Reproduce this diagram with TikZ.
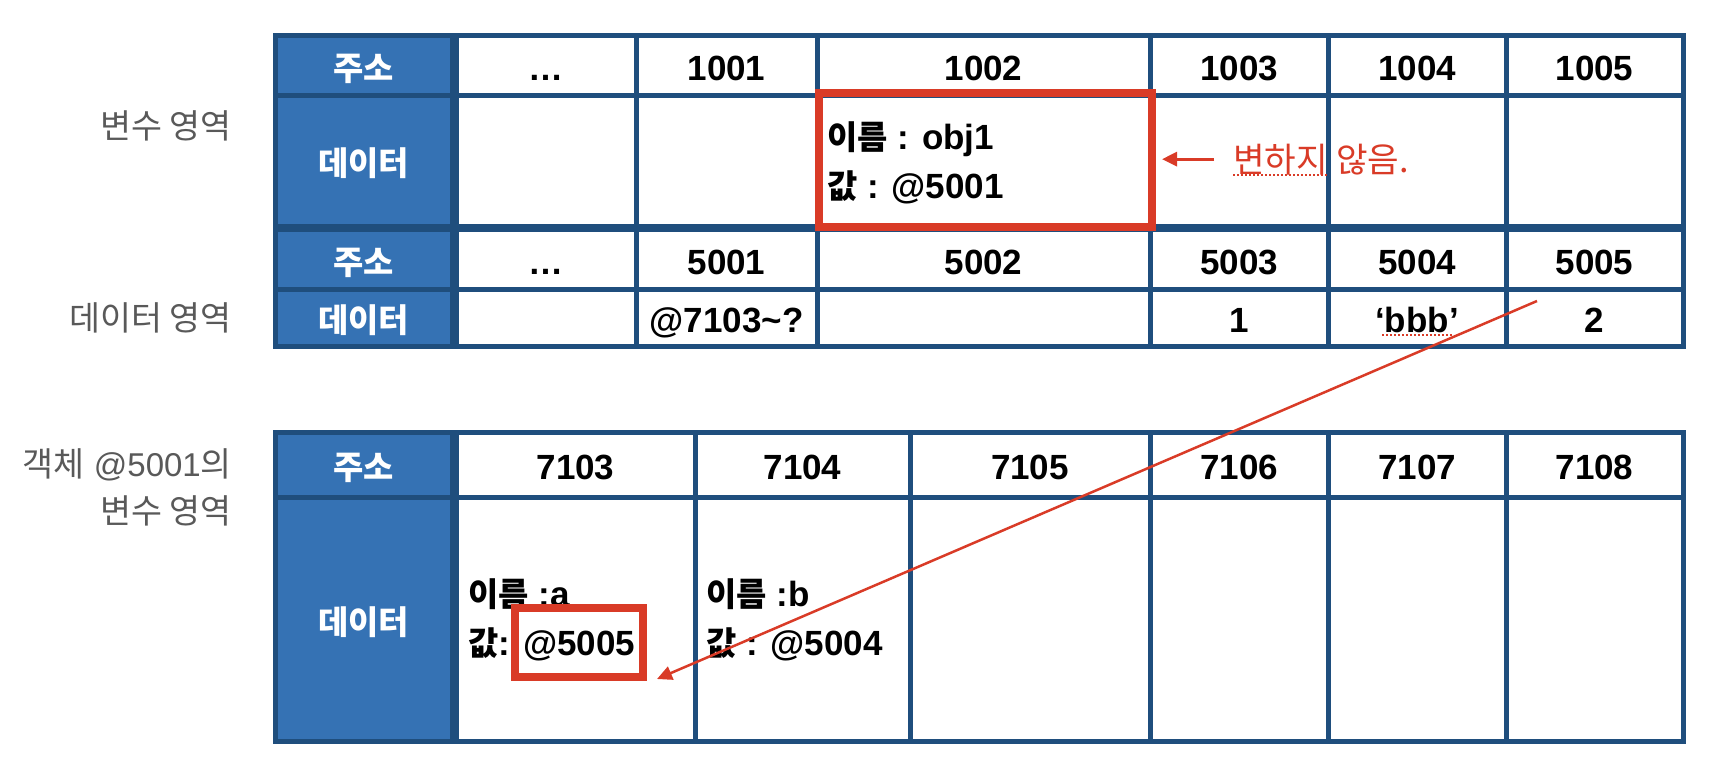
\documentclass[tikz,border=0pt]{standalone}
\usepackage{fontspec}
\setmainfont{Liberation Sans}
\newfontfamily\krfont{Noto Sans CJK KR}[Scale=0.94]
\newfontfamily\krlabelfont{Noto Sans CJK KR}[Scale=1.02]
\usetikzlibrary{arrows.meta, calc, positioning}
\definecolor{cellblue}{RGB}{53,114,180}
\definecolor{gridnavy}{RGB}{31,78,125}
\definecolor{markred}{RGB}{217,59,39}
\definecolor{labelgray}{RGB}{89,89,89}
\newcommand{\kr}[1]{{\krfont #1}}
\newcommand{\krl}[1]{{\krlabelfont #1}}
\newcommand{\threedots}{…}

\tikzset{
  cell/.style={draw=gridnavy, line width=5pt, inner sep=0pt, text height=30pt, text depth=0pt, font=\fontsize{35}{42}\selectfont\bfseries},
  headcell/.style={cell, fill=cellblue, text=white},
  entry/.style={inner sep=0pt, anchor=base west, font=\fontsize{35}{42}\selectfont\bfseries},
  sidelabel/.style={inner sep=0pt, anchor=east, text=labelgray, font=\fontsize{33}{40}\selectfont},
  notetext/.style={inner sep=0pt, anchor=base west, text=markred, font=\fontsize{36.5}{44}\selectfont},
  hlbox/.style={draw=markred, line width=8pt},
  pointer/.style={draw=markred, -{Triangle[length=15pt, width=14pt]}},
  squiggle/.style={draw=markred, line width=2pt, dash pattern=on 2pt off 2pt},
}

\begin{document}
\begin{tikzpicture}[x=1pt, y=-1pt]
  \useasboundingbox (0,0) rectangle (1730,772);

  % side labels
  \node[sidelabel] (lvar) at (232,126) {\krl{변수 영역}};
  \node[sidelabel] (ldata) at (232,318) {\krl{데이터 영역}};
  \node[sidelabel] (lobj) at (232,465) {\krl{객체} @5001\krl{의}};
  \node[sidelabel] (lobjvar) at (232,511) {\krl{변수 영역}};

  % upper table
  \foreach \yc/\hgt/\txt [count=\i] in {65/60/주소, 160.5/131/데이터, 259/60/주소, 317.5/57/데이터}
    \node[headcell, minimum width=177, minimum height=\hgt] (up\i) at (363.5,\yc) {\kr{\txt}};
  \foreach \xa/\xb/\txt [count=\i] in {456/636/\threedots, 636/817/1001, 817/1150/1002, 1150/1328/1003, 1328/1506/1004, 1506/1683/1005}
    \node[cell, minimum width=\xb-\xa, minimum height=60] (a\i) at ({(\xa+\xb)/2},65) {\txt};
  \foreach \xa/\xb [count=\i] in {456/636, 636/817, 817/1150, 1150/1328, 1328/1506, 1506/1683}
    \node[cell, minimum width=\xb-\xa, minimum height=131] (b\i) at ({(\xa+\xb)/2},160.5) {};
  \foreach \xa/\xb/\txt [count=\i] in {456/636/\threedots, 636/817/5001, 817/1150/5002, 1150/1328/5003, 1328/1506/5004, 1506/1683/5005}
    \node[cell, minimum width=\xb-\xa, minimum height=60] (c\i) at ({(\xa+\xb)/2},259) {\txt};
  \foreach \xa/\xb/\txt [count=\i] in {456/636/{}, 636/817/@7103\textasciitilde?, 817/1150/{}, 1150/1328/1, 1328/1506/‘bbb’, 1506/1683/2}
    \node[cell, minimum width=\xb-\xa, minimum height=57] (d\i) at ({(\xa+\xb)/2},317.5) {\txt};

  \node[entry] (nobj) at (827,149) {\kr{이름} : obj1};
  \node[entry] (vobj) at (827,198) {\kr{값} : @5001};

  % lower table
  \foreach \yc/\hgt/\txt [count=\i] in {464.75/65.5/주소, 619.25/243.5/데이터}
    \node[headcell, minimum width=177, minimum height=\hgt] (lo\i) at (363.5,\yc) {\kr{\txt}};
  \foreach \xa/\xb/\txt [count=\i] in {456/695/7103, 695/910/7104, 910/1150/7105, 1150/1328/7106, 1328/1506/7107, 1506/1683/7108}
    \node[cell, minimum width=\xb-\xa, minimum height=65.5] (e\i) at ({(\xa+\xb)/2},464.75) {\txt};
  \foreach \xa/\xb [count=\i] in {456/695, 695/910, 910/1150, 1150/1328, 1328/1506, 1506/1683}
    \node[cell, minimum width=\xb-\xa, minimum height=243.5] (f\i) at ({(\xa+\xb)/2},619.25) {};

  \node[entry] (na) at (468,606) {\kr{이름} :a};
  \node[entry] (va) at (468,655) {\kr{값}: @5005};
  \node[entry] (nb) at (706,606) {\kr{이름} :b};
  \node[entry] (vb) at (706,655) {\kr{값} : @5004};

  % highlights and pointers
  \node[hlbox, minimum width=333, minimum height=134.5] (hlobj) at (985.5,159.75) {};
  \node[hlbox, minimum width=128, minimum height=69] (hlval) at (579,642.5) {};

  \node[notetext] (note1) at (1233,172) {\kr{변하지}};
  \node[notetext, anchor=base west, xshift=8pt] (note2) at (note1.base east) {\kr{않음.}};
  \draw[squiggle] ([yshift=-2.5pt]note1.base west) -- ([yshift=-2.5pt]note1.base east);
  \draw[squiggle] ($(d5.center)+(-35,17.5)$) -- ($(d5.center)+(35,17.5)$);
  \draw[pointer, line width=3pt, shorten <=19pt, shorten >=6pt] (note1.west) -- (note1.west -| hlobj.east);

  \coordinate (src) at (1537,301);
  \draw[pointer, line width=2.5pt] (src) -- ([shift={(10,-2)}]hlval.south east);
\end{tikzpicture}
\end{document}
